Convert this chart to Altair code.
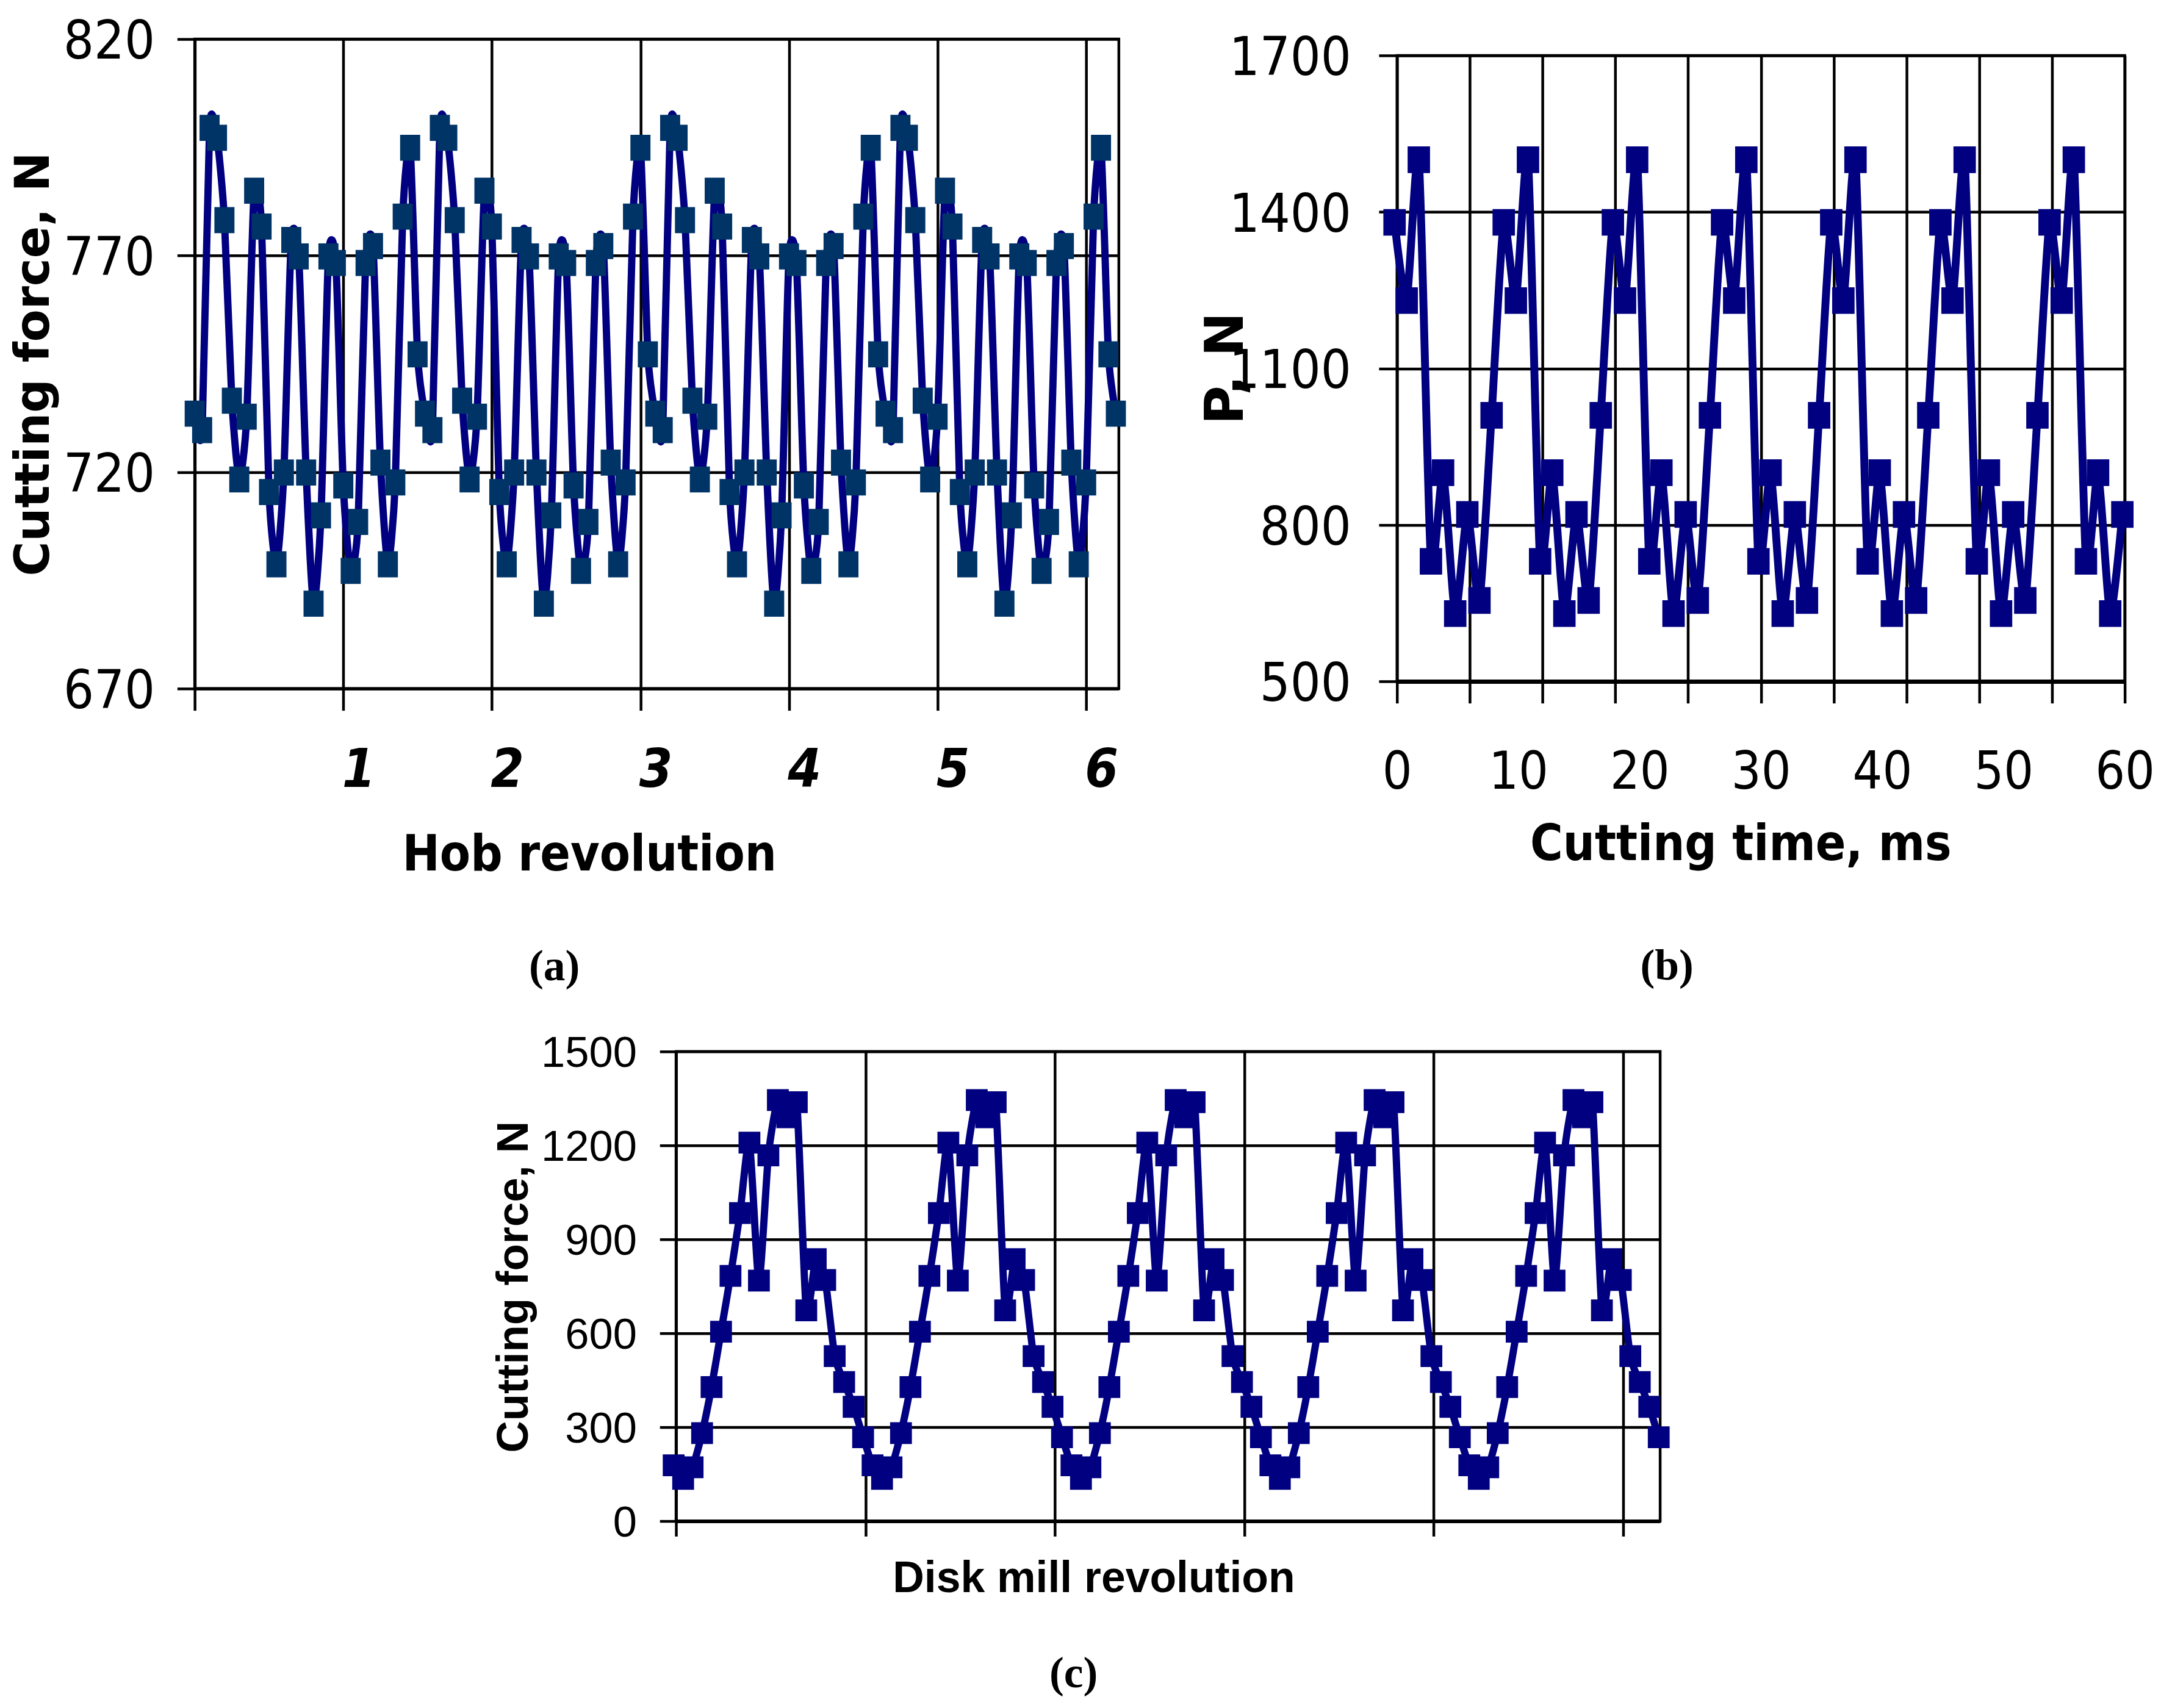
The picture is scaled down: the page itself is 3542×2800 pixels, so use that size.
import altair as alt
import pandas as pd

# ------------------------------------------------------------------ data
# (a) Hob: cutting force [N], one sample every 0.05 hob revolution
hob_force = [
    733.5, 729.7, 799.5, 797.2, 778.2, 736.5, 718.3, 732.8, 785.0, 776.7,
    715.4, 698.7, 719.9, 773.6, 769.8, 719.9, 689.6, 710.0, 769.8, 768.3,
    716.9, 697.2, 708.5, 768.3, 772.2, 722.2, 698.7, 717.6, 779.0, 794.9,
    747.2,
    733.5, 729.7, 799.5, 797.2, 778.2, 736.5, 718.3, 732.8, 785.0, 776.7,
    715.4, 698.7, 719.9, 773.6, 769.8, 719.9, 689.6, 710.0, 769.8, 768.3,
    716.9, 697.2, 708.5, 768.3, 772.2, 722.2, 698.7, 717.6, 779.0, 794.9,
    747.2,
    733.5, 729.7, 799.5, 797.2, 778.2, 736.5, 718.3, 732.8, 785.0, 776.7,
    715.4, 698.7, 719.9, 773.6, 769.8, 719.9, 689.6, 710.0, 769.8, 768.3,
    716.9, 697.2, 708.5, 768.3, 772.2, 722.2, 698.7, 717.6, 779.0, 794.9,
    747.2,
    733.5, 729.7, 799.5, 797.2, 778.2, 736.5, 718.3, 732.8, 785.0, 776.7,
    715.4, 698.7, 719.9, 773.6, 769.8, 719.9, 689.6, 710.0, 769.8, 768.3,
    716.9, 697.2, 708.5, 768.3, 772.2, 722.2, 698.7, 717.6, 779.0, 794.9,
    747.2,
    733.5,
]
hob_step = 0.05
hob_ticks = [0, 1, 2, 3, 4, 5, 6]
hob_force_ticks = [670, 720, 770, 820]

# (b) P [N] against cutting time, one sample per ms
time_force = [
    1380, 1230, 1500, 730, 900, 630, 820, 655, 1010,
    1380, 1230, 1500, 730, 900, 630, 820, 655, 1010,
    1380, 1230, 1500, 730, 900, 630, 820, 655, 1010,
    1380, 1230, 1500, 730, 900, 630, 820, 655, 1010,
    1380, 1230, 1500, 730, 900, 630, 820, 655, 1010,
    1380, 1230, 1500, 730, 900, 630, 820, 655, 1010,
    1380, 1230, 1500, 730, 900, 630, 820,
]
time_start = -0.2
time_grid = [0, 6, 12, 18, 24, 30, 36, 42, 48, 54, 60]
time_labels = [0, 10, 20, 30, 40, 50, 60]
p_ticks = [500, 800, 1100, 1400, 1700]

# (c) Disk mill: cutting force [N], one sample per step
disk_force = [
    178, 135, 172, 281, 428, 605, 783, 984, 1209, 768, 1168, 1345, 1290, 1338,
    673, 837, 770, 527, 444, 365, 268,
    178, 135, 172, 281, 428, 605, 783, 984, 1209, 768, 1168, 1345, 1290, 1338,
    673, 837, 770, 527, 444, 365, 268,
    178, 135, 172, 281, 428, 605, 783, 984, 1209, 768, 1168, 1345, 1290, 1338,
    673, 837, 770, 527, 444, 365, 268,
    178, 135, 172, 281, 428, 605, 783, 984, 1209, 768, 1168, 1345, 1290, 1338,
    673, 837, 770, 527, 444, 365, 268,
    178, 135, 172, 281, 428, 605, 783, 984, 1209, 768, 1168, 1345, 1290, 1338,
    673, 837, 770, 527, 444, 365, 268,
]
disk_start = -0.25
disk_grid = [0, 20, 40, 60, 80, 100]
disk_force_ticks = [0, 300, 600, 900, 1200, 1500]

# ------------------------------------------------------------------ styling
NAVY = "#000080"
TEAL = "#003366"
NARROW = "Liberation Sans Narrow, DejaVu Sans Condensed, Liberation Sans"
WIDE = "DejaVu Sans"
ARIAL = "Liberation Sans"
SERIF = "Liberation Serif"

RECT_A = "M-0.77,-1L0.77,-1L0.77,1L-0.77,1Z"
RECT_B = "M-0.84,-1L0.84,-1L0.84,1L-0.84,1Z"
TENSION = 0.35


def axis(**kw):
    base = dict(
        gridColor="black", gridOpacity=1, domainColor="black", tickColor="black",
        labelColor="black", titleColor="black", labelFlush=False, labelOverlap=False,
        labelLimit=1000, titleLimit=3000,
        titleAlign="center", titleBaseline="alphabetic", tickWidth=4.5, gridWidth=4.5,
    )
    base.update(kw)
    return alt.Axis(**base)


def caption(text, dx, offset):
    return alt.TitleParams(
        text, orient="bottom", anchor="middle", frame="group", dx=dx, offset=offset,
        font=SERIF, fontSize=72, fontWeight="bold", color="black", baseline="top",
    )


def spacer(h):
    return alt.Chart(alt.Data(values=[{"v": 0}])).mark_point(opacity=0, size=1).properties(
        width=10, height=h, view=alt.ViewBackground(stroke="transparent"),
    )


# ------------------------------------------------------------------ (a)
df_a = pd.DataFrame({
    "rev": [round(i * hob_step, 3) for i in range(len(hob_force))],
    "force": hob_force,
})
xa = alt.X(
    "rev:Q",
    scale=alt.Scale(domain=[0, 6.22], nice=False, zero=False),
    axis=axis(
        values=hob_ticks, grid=True, domainWidth=5, tickSize=36,
        labelExpr="datum.value == 0 ? '' : datum.label",
        labelFont=NARROW, labelFontSize=88, labelFontWeight="bold", labelFontStyle="italic",
        labelPadding=56, labelOffset=25,
        title="Hob revolution", titleFont=NARROW, titleFontSize=82, titleFontWeight="bold",
        titleX=651, titleY=300,
    ),
)
ya = alt.Y(
    "force:Q",
    scale=alt.Scale(domain=[670, 820], nice=False, zero=False),
    axis=axis(
        values=hob_force_ticks, grid=True, domainWidth=5, tickSize=29, format="d",
        labelFont=NARROW, labelFontSize=88, labelPadding=37, labelOffset=6,
        title="Cutting force, N", titleFont=WIDE, titleFontSize=78, titleFontWeight="bold",
        titleX=-241, titleY=536,
    ),
)
base_a = alt.Chart(df_a).encode(x=xa, y=ya)
chart_a = alt.layer(
    base_a.mark_line(color=NAVY, strokeWidth=12, interpolate="cardinal", tension=TENSION),
    base_a.mark_point(shape=RECT_A, size=1849, filled=True, color=TEAL, opacity=1, strokeWidth=0),
).properties(
    width=1525, height=1072,
    view=alt.ViewBackground(stroke="black", strokeWidth=4.5),
    title=caption("(a)", -169, 108),
)

# ------------------------------------------------------------------ (b)
df_b = pd.DataFrame({
    "t": [round(time_start + i, 3) for i in range(len(time_force))],
    "p": time_force,
})
sc_xb = alt.Scale(domain=[0, 60], nice=False, zero=False)
yb = alt.Y(
    "p:Q",
    scale=alt.Scale(domain=[500, 1700], nice=False, zero=False),
    axis=axis(
        values=p_ticks, grid=True, domainWidth=4.5, tickSize=30, format="d",
        labelFont=NARROW, labelFontSize=88, labelPadding=46, labelOffset=6,
        title="P, N", titleFont=WIDE, titleFontSize=88, titleFontWeight="bold",
        titleX=-255, titleY=516,
    ),
)
xb_grid = alt.X(
    "t:Q", scale=sc_xb,
    axis=axis(values=time_grid, grid=True, labels=False, domainWidth=7, tickSize=36,
              orient="bottom", title=None),
)
xb_lab = alt.X(
    "t:Q", scale=sc_xb,
    axis=axis(
        values=time_labels, grid=False, domain=False, ticks=False, tickSize=0, orient="bottom",
        labelFont=NARROW, labelFontSize=86, labelPadding=109,
        title="Cutting time, ms", titleFont=NARROW, titleFontSize=82, titleFontWeight="bold",
        titleX=567, titleY=295,
    ),
)
chart_b = alt.layer(
    alt.Chart(df_b).mark_line(color=NAVY, strokeWidth=13, interpolate="cardinal",
                              tension=TENSION).encode(x=xb_grid, y=yb),
    alt.Chart(df_b).mark_point(shape=RECT_B, size=1936, filled=True, color=NAVY, opacity=1,
                               strokeWidth=0).encode(x=xb_lab, y=yb),
).resolve_axis(x="independent").properties(
    width=1201, height=1033,
    view=alt.ViewBackground(stroke="black", strokeWidth=4.5),
    title=caption("(b)", -155, 124),
)

# ------------------------------------------------------------------ (c)
df_c = pd.DataFrame({
    "s": [round(disk_start + i, 3) for i in range(len(disk_force))],
    "force": disk_force,
})
xc = alt.X(
    "s:Q",
    scale=alt.Scale(domain=[0, 103.9], nice=False, zero=False),
    axis=axis(
        values=disk_grid, grid=True, labels=False, domainWidth=6, tickSize=25,
        title="Disk mill revolution", titleFont=ARIAL, titleFontSize=72, titleFontWeight="bold",
        titleX=689, titleY=117,
    ),
)
yc = alt.Y(
    "force:Q",
    scale=alt.Scale(domain=[0, 1500], nice=False, zero=False),
    axis=axis(
        values=disk_force_ticks, grid=True, domainWidth=4.5, tickSize=27, format="d",
        labelFont=ARIAL, labelFontSize=71, labelPadding=38, labelOffset=4,
        title="Cutting force, N", titleFont=ARIAL, titleFontSize=73, titleFontWeight="bold",
        titleX=-245, titleY=388,
    ),
)
base_c = alt.Chart(df_c).encode(x=xc, y=yc)
chart_c = alt.layer(
    base_c.mark_line(color=NAVY, strokeWidth=12, interpolate="cardinal", tension=TENSION),
    base_c.mark_point(shape="square", size=1296, filled=True, color=NAVY, opacity=1, strokeWidth=0),
).properties(
    width=1624, height=775,
    view=alt.ViewBackground(stroke="black", strokeWidth=4.5),
    title=caption("(c)", -156, 86),
)

# ------------------------------------------------------------------ layout
col_a = alt.vconcat(spacer(1), chart_a, spacing=0)
col_b = alt.vconcat(spacer(28), chart_b, spacing=0)
row1 = alt.hconcat(col_a, col_b, spacing=109)
chart = alt.vconcat(row1, chart_c, spacing=66, center=True).properties(
    padding={"left": 8, "top": 3, "right": 0, "bottom": 0},
    background="white",
)

chart.save("out.html", embed_options={"renderer": "svg", "actions": False})
